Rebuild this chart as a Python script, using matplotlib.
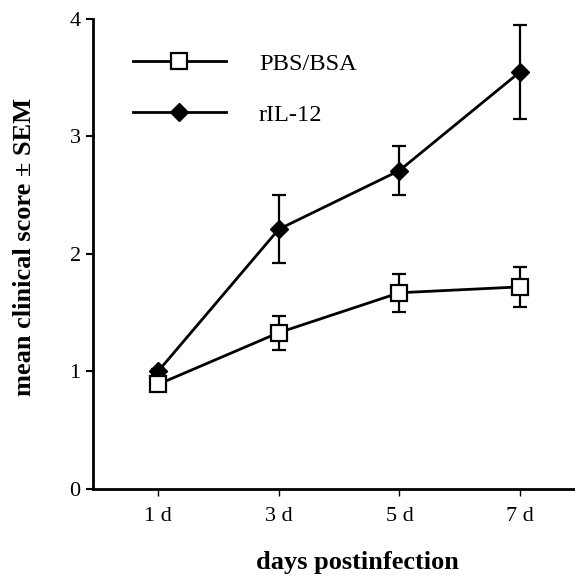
import matplotlib

matplotlib.use("Agg")
import matplotlib.pyplot as plt

DAYS = [1, 3, 5, 7]
DAY_LABELS = ["1 d", "3 d", "5 d", "7 d"]

PBS_MEAN = [0.89, 1.33, 1.67, 1.72]
PBS_SEM = [0.04, 0.145, 0.16, 0.17]
IL12_MEAN = [1.0, 2.21, 2.71, 3.55]
IL12_SEM = [0.02, 0.29, 0.21, 0.40]

plt.rcParams["font.family"] = ["Liberation Serif", "DejaVu Serif"]

fig = plt.figure(figsize=(5.75, 5.75), dpi=100)
ax = fig.add_axes([0.162, 0.1496, 0.838, 0.8174])

ax.errorbar(DAYS, IL12_MEAN, yerr=IL12_SEM, color="black", lw=2.0, marker="D",
            markersize=9, markerfacecolor="black", markeredgecolor="black",
            ecolor="black", elinewidth=1.6, capsize=5, capthick=1.6, zorder=2,
            label="rIL-12")
ax.errorbar(DAYS, PBS_MEAN, yerr=PBS_SEM, color="black", lw=2.0, marker="s",
            markersize=11, markerfacecolor="white", markeredgecolor="black",
            markeredgewidth=1.6, ecolor="black", elinewidth=1.6, capsize=5,
            capthick=1.6, zorder=3, label="PBS/BSA")

ax.set_xlim(-0.074, 7.91)
ax.set_ylim(0, 4)
ax.set_xticks(DAYS)
ax.set_xticklabels(DAY_LABELS)
ax.set_yticks([0, 1, 2, 3, 4])

for side in ("top", "right"):
    ax.spines[side].set_visible(False)
ax.spines["left"].set_linewidth(2.0)
ax.spines["bottom"].set_linewidth(2.0)
ax.tick_params(axis="y", direction="out", length=5, width=1.5, labelsize=16, pad=4)
ax.tick_params(axis="x", direction="out", length=5, width=1.0, labelsize=16, pad=8)

ax.set_xlabel("days postinfection", fontsize=19, fontweight="bold", labelpad=18, x=0.548)
ax.set_ylabel("mean clinical score \u00b1 SEM", fontsize=19, fontweight="bold", labelpad=24, y=0.515)

handles, labels = ax.get_legend_handles_labels()
handles = [h[0] for h in handles][::-1]
labels = labels[::-1]
ax.legend(handles, labels, loc="upper left", bbox_to_anchor=(0.037, 0.9755),
          frameon=False, fontsize=17.6, handlelength=3.8, handletextpad=1.35,
          labelspacing=1.19)

fig.savefig("out.png", dpi=100)
